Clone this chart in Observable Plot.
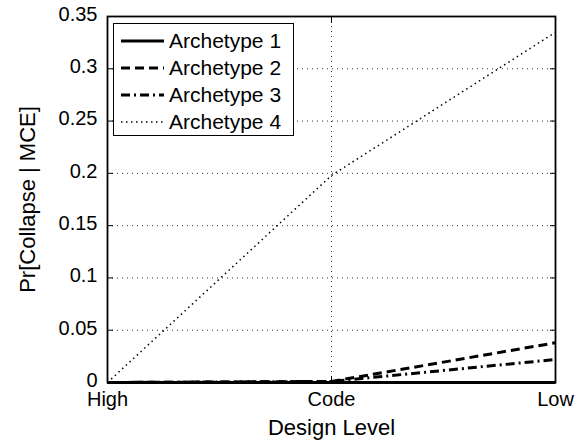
<!DOCTYPE html>
<html>
<head>
<meta charset="utf-8">
<script src="https://cdn.jsdelivr.net/npm/d3@7"></script>
<script src="https://cdn.jsdelivr.net/npm/@observablehq/plot@0.6"></script>
<style>
  html, body { margin: 0; padding: 0; background: #fff; }
  #wrap { position: relative; width: 577px; height: 444px; font-family: "Liberation Sans", Arial, sans-serif; }
  #legend { position: absolute; left: 113px; top: 23px; width: 179px; height: 111px; border: 1.5px solid #000; background: #fff; }
  .row { position: absolute; left: 0; height: 27px; width: 100%; }
  .row svg { position: absolute; left: 0; top: 0; }
  .row span { position: absolute; left: 55px; top: 3px; font-size: 21px; line-height: 21px; color: #000; white-space: nowrap; }
</style>
</head>
<body>
<div id="wrap"></div>
<script>
// Design levels along the x axis
const levels = ["High", "Code", "Low"];

// Collapse probability under MCE for each archetype
const archetype1 = [0, 0, 0];
const archetype2 = [0, 0.001, 0.038];
const archetype3 = [0, 0.001, 0.022];
const archetype4 = [0, 0.198, 0.335];

const seriesNames = ["Archetype 1", "Archetype 2", "Archetype 3", "Archetype 4"];

// y tick values and their labels
const yTicks = [0, 0.05, 0.1, 0.15, 0.2, 0.25, 0.3, 0.35];
const yTickLabels = ["0", "0.05", "0.1", "0.15", "0.2", "0.25", "0.3", "0.35"];

const xTitle = "Design Level";
const yTitle = "Pr[Collapse | MCE]";

const styles = [
  {strokeWidth: 3, strokeDasharray: null},
  {strokeWidth: 3, strokeDasharray: "9,5"},
  {strokeWidth: 3, strokeDasharray: "9,4,2,4"},
  {strokeWidth: 1.5, strokeDasharray: "1.5,3.5"}
];

const allSeries = [archetype1, archetype2, archetype3, archetype4];
const rows = allSeries.flatMap((vals, s) =>
  vals.map((v, i) => ({series: seriesNames[s], level: levels[i], value: v}))
);

const lineMarks = seriesNames.map((name, s) =>
  Plot.line(rows.filter(d => d.series === name), {
    x: "level", y: "value", stroke: "#000",
    strokeWidth: styles[s].strokeWidth,
    strokeDasharray: styles[s].strokeDasharray,
    strokeLinecap: "butt"
  })
);

const chart = Plot.plot({
  width: 577,
  height: 444,
  marginLeft: 107,
  marginRight: 22,
  marginTop: 16,
  marginBottom: 62,
  style: {fontFamily: "'Liberation Sans', Arial, sans-serif", fontSize: "20px", color: "#000", background: "#fff"},
  x: {type: "point", domain: levels, padding: 0},
  y: {domain: [0, 0.35]},
  marks: [
    // dotted grid
    Plot.ruleY(yTicks.slice(1, -1), {stroke: "#333", strokeWidth: 1, strokeDasharray: "1,4"}),
    Plot.ruleX(["Code"], {stroke: "#333", strokeWidth: 1, strokeDasharray: "1,4"}),
    ...lineMarks,
    Plot.frame({stroke: "#000", strokeWidth: 1.8}),
    // inward ticks on all four sides
    Plot.axisY(yTicks, {anchor: "left", tickSize: -6, tickFormat: () => "", label: null}),
    Plot.axisY(yTicks, {anchor: "right", tickSize: -6, tickFormat: () => "", label: null}),
    Plot.axisX(levels, {anchor: "top", tickSize: -6, tickFormat: () => "", label: null}),
    Plot.axisX(levels, {anchor: "bottom", tickSize: -6, tickFormat: () => "", label: null}),
    // tick labels
    Plot.axisY(yTicks, {
      anchor: "left", tickSize: 0, tickPadding: 10, fontSize: 20, dy: -2,
      tickFormat: (d, i) => yTickLabels[i], label: null
    }),
    Plot.axisX(levels, {
      anchor: "bottom", tickSize: 0, tickPadding: 9, fontSize: 20, label: null
    }),
    // axis titles
    Plot.axisY([], {
      anchor: "left", tickSize: 0, fontSize: 22, tickFormat: () => "",
      label: yTitle, labelAnchor: "center", labelOffset: 88, labelArrow: "none"
    }),
    Plot.axisX([], {
      anchor: "bottom", tickSize: 0, fontSize: 22, tickFormat: () => "",
      label: xTitle, labelAnchor: "center", labelOffset: 52, labelArrow: "none"
    })
  ]
});

const wrap = document.getElementById("wrap");
wrap.appendChild(chart);

// legend box in the upper-left corner of the plot
const legend = document.createElement("div");
legend.id = "legend";
seriesNames.forEach((name, s) => {
  const row = document.createElement("div");
  row.className = "row";
  row.style.top = (3 + s * 27) + "px";
  const svg = d3.create("svg").attr("width", 54).attr("height", 27);
  svg.append("line")
    .attr("x1", 7).attr("x2", 50).attr("y1", 14).attr("y2", 14)
    .attr("stroke", "#000")
    .attr("stroke-width", styles[s].strokeWidth)
    .attr("stroke-dasharray", styles[s].strokeDasharray);
  row.appendChild(svg.node());
  const span = document.createElement("span");
  span.textContent = name;
  row.appendChild(span);
  legend.appendChild(row);
});
wrap.appendChild(legend);
</script>
</body>
</html>
